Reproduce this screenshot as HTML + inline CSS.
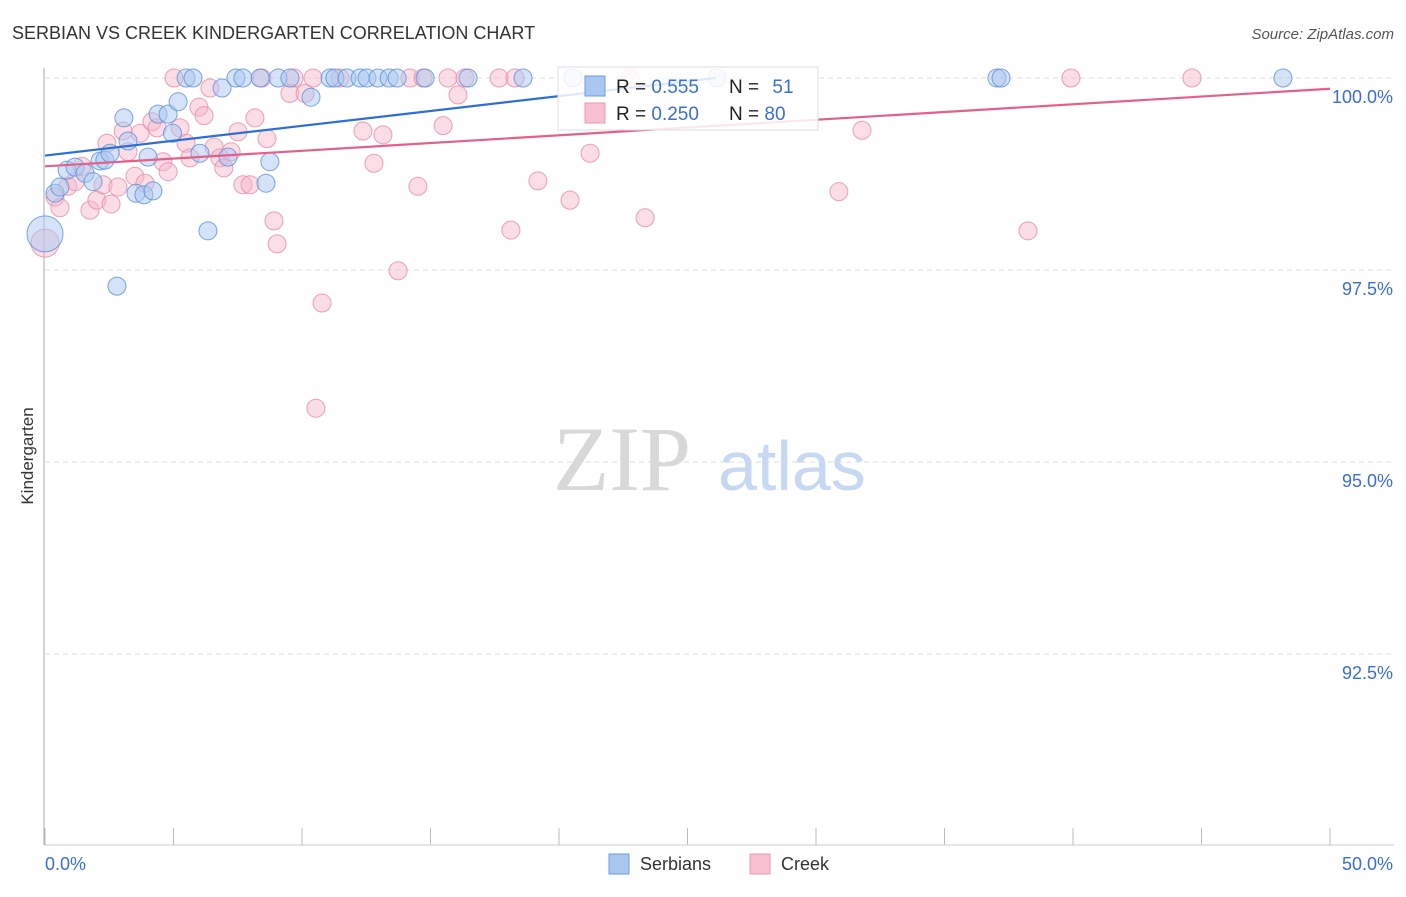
<!DOCTYPE html>
<html><head><meta charset="utf-8"><style>
body{margin:0;background:#fff;font-family:"Liberation Sans",sans-serif}
</style></head><body>
<svg id="chart" width="1406" height="892" font-family="Liberation Sans, sans-serif">
<text x="12" y="39" font-size="18" fill="#333">SERBIAN VS CREEK KINDERGARTEN CORRELATION CHART</text>
<text x="1394" y="39" font-size="15" fill="#555" font-style="italic" text-anchor="end">Source: ZipAtlas.com</text>
<g>
<text x="553" y="490" font-size="92" style="font-family:'Liberation Serif',serif" fill="#d8d8d8">ZIP</text>
<text x="718" y="490" font-size="70" fill="#c6d8f2">atlas</text>
</g>
<g id="grid"></g><g id="axes"></g><g id="pts"></g><g id="lines"></g>
<text transform="translate(33,456) rotate(-90)" font-size="17" fill="#333" text-anchor="middle">Kindergarten</text>
<g>
<rect x="558" y="67" width="260" height="63" fill="#fff" fill-opacity="0.85" stroke="#ddd"/>
<rect x="585" y="76" width="20" height="20" fill="#a9c7f0" stroke="#6b9be0"/>
<rect x="585" y="103" width="20" height="20" fill="#f8bfd0" stroke="#eb9ab5"/>
<text x="616" y="93" font-size="19" fill="#222">R = <tspan fill="#3a6fd0">0.555</tspan></text>
<text x="729" y="93" font-size="19" fill="#222">N = <tspan dx="8" fill="#3a6fd0">51</tspan></text>
<text x="616" y="120" font-size="19" fill="#222">R = <tspan fill="#3a6fd0">0.250</tspan></text>
<text x="729" y="120" font-size="19" fill="#222">N = <tspan fill="#3a6fd0">80</tspan></text>
</g>
<g>
<rect x="609" y="854" width="20" height="20" fill="#a9c7f0" stroke="#6b9be0"/>
<text x="640" y="870" font-size="18" fill="#333">Serbians</text>
<rect x="750" y="854" width="20" height="20" fill="#f8bfd0" stroke="#eb9ab5"/>
<text x="781" y="870" font-size="18" fill="#333">Creek</text>
</g>
</svg>
<script>
const yTicks=[100,97.5,95,92.5];
const yTickLabels=["100.0%","97.5%","95.0%","92.5%"];
const xTickLabels=["0.0%","50.0%"];
const serbX=[0,0.39,0.58,0.86,1.17,1.56,1.87,2.14,2.33,2.53,3.07,3.23,3.54,3.85,4.01,4.2,4.4,4.79,4.96,5.18,5.49,5.76,6.03,6.34,6.89,7.12,7.43,7.7,8.37,8.6,8.75,9.07,9.53,10.35,11.09,11.28,11.75,12.26,12.53,12.96,13.39,13.7,14.79,16.46,18.6,20.54,26.15,37.04,37.2,48.17,2.8];
const serbY=[97.97,98.5,98.58,98.8,98.84,98.76,98.65,98.92,98.93,99.02,99.48,99.18,98.5,98.48,98.97,98.53,99.53,99.53,99.28,99.69,100,100,99.02,98.01,99.87,98.97,100,100,100,98.63,98.91,100,100,99.75,100,100,100,100,100,100,100,100,100,100,100,100,100,100,100,100,97.29];
const creekX=[0,0.39,0.58,0.89,1.17,1.44,1.75,2.02,2.26,2.41,2.57,2.84,3.04,3.23,3.5,3.7,3.89,4.16,4.36,4.59,4.79,5.02,5.25,5.49,5.64,5.99,6.19,6.42,6.58,6.81,6.96,7.24,7.51,7.7,7.98,8.17,8.44,8.64,8.91,9.03,9.53,9.69,10.12,10.43,10.54,10.78,11.48,12.37,12.8,13.15,13.74,14.2,14.51,14.71,15.49,15.68,16.07,16.34,17.67,18.13,18.29,19.18,20.43,21.21,23.35,22.76,30.89,31.79,38.25,39.92,44.63];
const creekY=[97.85,98.45,98.31,98.59,98.65,98.85,98.28,98.41,98.61,99.15,98.36,98.58,99.31,99.04,98.72,99.28,98.63,99.43,99.35,98.91,98.78,100,99.35,99.15,98.96,99.62,99.51,99.87,99.1,98.96,98.83,99.04,99.3,98.61,98.61,99.48,100,99.21,98.14,97.84,99.8,100,99.8,100,95.7,97.07,100,99.31,98.89,99.26,97.49,100,98.59,100,99.38,100,99.78,100,100,98.02,100,98.66,98.41,99.02,98.18,100,98.52,99.32,98.01,100,100];
const serbLine=[[0,98.99],[26.1,100]];
const creekLine=[[0,98.85],[50,99.86]];
const NS="http://www.w3.org/2000/svg";
const sx=v=>45+v/50*1285, sy=v=>78+(100-v)*76.8;
function mk(t,a,p){const e=document.createElementNS(NS,t);for(const k in a)e.setAttribute(k,a[k]);document.getElementById(p).appendChild(e);return e;}
yTicks.forEach((t,i)=>{
 const g=mk('line',{x1:45,x2:1394,y1:sy(t),y2:sy(t),stroke:'#ddd','stroke-dasharray':'5,4'},'grid');
 
 
 const l=mk('text',{x:1393,y:sy(t)+25,'font-size':18,fill:'#3a6fd0','text-anchor':'end'},'grid');l.textContent=yTickLabels[i];
 
 
});
mk('line',{x1:44,x2:44,y1:68,y2:845,stroke:'#aaa'},'axes');
mk('line',{x1:44,x2:1394,y1:845,y2:845,stroke:'#ccc'},'axes');
for(let i=0;i<=10;i++){mk('line',{x1:sx(i*5),x2:sx(i*5),y1:828,y2:845,stroke:'#bbb'},'axes');}
xTickLabels.forEach((s,i)=>{const t=mk('text',{x:i?1393:45,y:870,'font-size':18,fill:'#3a6fd0','text-anchor':i?'end':'start'},'axes');t.textContent=s;
 
 });
creekX.forEach((x,i)=>{const c=mk('circle',{cx:sx(x),cy:sy(creekY[i]),r:i==0?14:9,fill:'#f6b3c8','fill-opacity':0.45,stroke:'#e88aa8','stroke-opacity':0.8},'pts');
 
 });
serbX.forEach((x,i)=>{const c=mk('circle',{cx:sx(x),cy:sy(serbY[i]),r:i==0?18:9,fill:'#a9c7f0','fill-opacity':0.5,stroke:'#5b8fdc','stroke-opacity':0.8},'pts');
 
 });
const bl=mk('line',{x1:sx(serbLine[0][0]),y1:sy(serbLine[0][1]),x2:sx(serbLine[1][0]),y2:sy(serbLine[1][1]),stroke:'#2d6fd6','stroke-width':2.2},'lines');


const pl=mk('line',{x1:sx(creekLine[0][0]),y1:sy(creekLine[0][1]),x2:sx(creekLine[1][0]),y2:sy(creekLine[1][1]),stroke:'#e4608a','stroke-width':2.2},'lines');


</script>
</body></html>
